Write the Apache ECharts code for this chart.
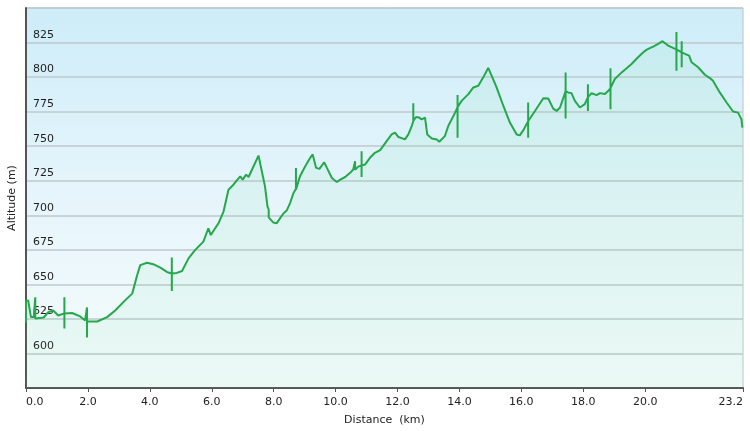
<!DOCTYPE html>
<html>
<head>
<meta charset="utf-8">
<script src="https://cdn.jsdelivr.net/npm/echarts@6/dist/echarts.min.js"></script>
<style>html,body{margin:0;padding:0;background:#fff;}#c{width:750px;height:431px;}</style>
</head>
<body>
<div id="c"></div>
<script>
var distanceKm = [0,0,0.07,0.16,0.25,0.30,0.30,0.30,0.57,0.72,0.88,1.04,1.24,1.24,1.24,1.24,1.49,1.75,1.91,1.97,1.97,1.97,1.97,2.08,2.30,2.62,2.88,3.20,3.43,3.59,3.69,3.91,4.11,4.34,4.55,4.71,4.71,4.71,4.71,4.87,5.04,5.25,5.46,5.73,5.89,5.97,6.11,6.22,6.38,6.54,6.70,6.81,6.92,7.00,7.11,7.19,7.35,7.51,7.56,7.72,7.80,7.84,7.84,7.89,7.99,8.10,8.21,8.32,8.42,8.53,8.64,8.72,8.72,8.72,8.85,9.02,9.18,9.26,9.37,9.48,9.63,9.72,9.88,10.04,10.15,10.31,10.47,10.57,10.63,10.63,10.63,10.73,10.84,10.84,10.84,10.84,10.95,11.11,11.27,11.44,11.65,11.81,11.92,12.03,12.24,12.35,12.46,12.51,12.51,12.51,12.60,12.70,12.78,12.89,12.96,13.11,13.27,13.35,13.53,13.64,13.86,13.94,13.94,13.94,13.94,14.07,14.29,14.45,14.61,14.77,14.93,15.04,15.20,15.42,15.63,15.85,15.95,16.08,16.22,16.22,16.22,16.22,16.44,16.71,16.87,17.03,17.14,17.25,17.43,17.43,17.43,17.43,17.51,17.62,17.73,17.89,18.05,18.15,18.15,18.15,18.15,18.27,18.43,18.54,18.70,18.81,18.88,18.88,18.88,18.88,19.02,19.24,19.40,19.56,19.77,19.94,20.04,20.15,20.26,20.42,20.56,20.74,20.90,21.01,21.01,21.01,21.01,21.07,21.18,21.18,21.18,21.18,21.34,21.42,21.50,21.71,21.93,22.09,22.19,22.41,22.63,22.84,23.00,23.11,23.14];
var altitudeM = [622.4,638.4,638.4,626.3,626.3,626.3,640.6,625.3,626.0,629.9,631.1,627.5,629.0,640.6,618.0,629.0,629.3,626.8,623.9,623.9,633.3,611.5,623.1,623.1,623.1,626.3,631.1,638.4,643.3,656.6,663.9,665.6,664.6,662.1,659.0,657.9,669.5,645.2,657.9,658.3,659.7,668.8,674.8,680.9,690.6,685.7,690.6,694.3,702.7,718.5,722.1,725.3,728.2,725.8,729.4,727.7,735.5,743.2,743.2,720.9,706.5,704.0,698.5,699.1,694.7,694.3,697.9,701.5,703.4,708.8,716.1,719.2,734.3,718.5,728.2,735.5,741.6,744.0,734.3,733.6,738.4,734.3,727.0,724.1,725.8,727.7,730.7,733.1,733.0,739.1,733.0,735.2,736.0,746.4,727.7,736.0,736.7,741.6,745.2,747.1,753.7,758.5,759.8,756.6,754.9,758.5,764.6,768.0,781.1,768.2,771.1,770.7,769.4,770.7,758.5,755.6,754.9,753.2,757.3,764.6,774.3,778.2,787.1,756.1,778.2,782.8,787.7,792.5,793.7,799.8,806.6,801.0,792.5,779.1,767.1,758.5,757.8,762.2,768.0,781.6,756.1,768.0,775.5,784.7,784.5,777.2,775.5,778.0,789.8,803.4,770.0,789.8,788.9,788.4,782.8,778.0,780.4,785.5,794.9,775.5,785.5,788.4,786.9,788.4,787.7,790.1,792.0,806.4,776.7,792.0,798.6,803.4,806.4,809.5,814.4,818.0,819.7,820.9,822.1,824.1,826.0,822.8,821.1,820.0,832.6,804.6,820.0,819.2,817.9,826.0,807.1,817.9,816.3,815.5,810.7,807.1,801.7,799.3,797.3,788.9,781.6,775.1,774.3,769.4,763.4];
var xTickValues = [0,2,4,6,8,10,12,14,16,18,20,23.16];
var yLabelValues = [600,625,650,675,700,725,750,775,800,825];

var points = distanceKm.map(function(d, i){ return [d, altitudeM[i]]; });
var chart = echarts.init(document.getElementById('c'), null, {renderer:'canvas'});
var font = 'DejaVu Sans';
chart.setOption({
  animation: false,
  grid: {
    left: 26, right: 7, top: 8, bottom: 43,
    containLabel: false,
    outerBoundsMode: 'none',
    show: true,
    borderColor: '#b9c2c6', borderWidth: 1,
    backgroundColor: new echarts.graphic.LinearGradient(0,0,0,1,[
      {offset:0, color:'#cdedf9'},
      {offset:0.5, color:'#e6f5fb'},
      {offset:1, color:'#f6fcfc'}
    ])
  },
  xAxis: {
    type: 'value', min: 0, max: 23.16,
    name: 'Distance  (km)', nameLocation: 'middle', nameGap: 27,
    nameTextStyle: {fontFamily: font, fontSize: 11, color: '#222'},
    axisLine: {show: true, lineStyle: {color: '#555', width: 2}},
    axisTick: {show: true, length: 4, lineStyle: {color: '#555', width: 1}, customValues: xTickValues},
    axisLabel: {fontFamily: font, fontSize: 11, color: '#222', margin: 9, customValues: xTickValues,
      alignMinLabel: 'left', alignMaxLabel: 'right',
      formatter: function(v){ return Number(v).toFixed(1); }},
    splitLine: {show: false}
  },
  yAxis: {
    type: 'value', min: 575, max: 850, interval: 25,
    name: 'Altitude (m)', nameLocation: 'middle', nameGap: 4, nameRotate: 90,
    nameTextStyle: {fontFamily: font, fontSize: 11, color: '#222'},
    axisLine: {show: true, lineStyle: {color: '#555', width: 2}},
    axisTick: {show: false},
    axisLabel: {inside: true, margin: 7, fontFamily: font, fontSize: 11, color: '#222',
      verticalAlign: 'bottom', padding: [0,0,2,0],
      formatter: function(v){ return yLabelValues.indexOf(v) >= 0 ? String(v) : ''; }},
    splitLine: {show: true, lineStyle: {color: '#bfc8cc', width: 1.5}}
  },
  series: [{
    type: 'line',
    data: points,
    showSymbol: false,
    symbol: 'none',
    lineStyle: {color: '#25a84b', width: 2},
    areaStyle: {origin: 'start', color: new echarts.graphic.LinearGradient(0,0,0,1,[
      {offset:0, color:'rgba(90,215,140,0.13)'},
      {offset:1, color:'rgba(90,215,140,0.10)'}
    ])},
    z: 3
  }]
});
</script>
</body>
</html>
